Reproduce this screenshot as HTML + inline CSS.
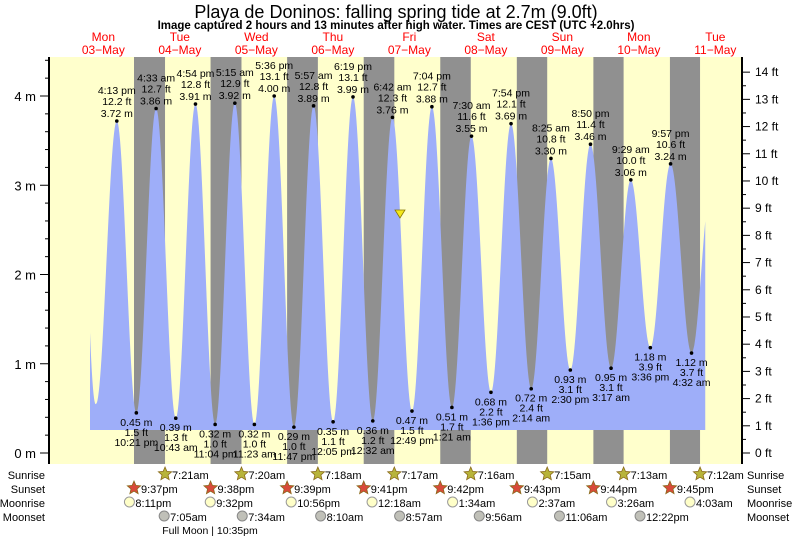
<!DOCTYPE html>
<html><head><meta charset="utf-8"><style>
body{margin:0;background:#fff}
svg{display:block;font-family:"Liberation Sans",sans-serif}
</style></head><body>
<svg id="s" width="793" height="538" viewBox="0 0 793 538" xmlns="http://www.w3.org/2000/svg"></svg>
<script>
const S=document.getElementById('s');let h='';
const X0=65.1,PX=3.1875;const X=t=>X0+PX*t;const Y=m=>453-89.25*m;
const L=49,R=742,T=57,B=464;
h+=`<rect x="${L}" y="${T}" width="${R-L}" height="${B-T}" fill="#ffffcc"/>`;
const ss=[21+37/60,21+38/60,21+39/60,21+41/60,21+42/60,21+43/60,21+44/60,21+45/60];
const sr=[7+21/60,7+20/60,7+18/60,7+17/60,7+16/60,7+15/60,7+13/60,7+12/60];
for(let d=0;d<8;d++){const a=X(d*24+ss[d]),b=X((d+1)*24+sr[d]);h+=`<rect x="${a}" y="${T}" width="${b-a}" height="${B-T}" fill="#909090"/>`;}
const ex=[[16.22,3.72,'4:13 pm'],[22.35,.45,'10:21 pm'],[28.55,3.86,'4:33 am'],[34.72,.39,'10:43 am'],[40.9,3.91,'4:54 pm'],[47.07,.32,'11:04 pm'],[53.25,3.92,'5:15 am'],[59.38,.32,'11:23 am'],[65.6,4.00,'5:36 pm'],[71.78,.29,'11:47 pm'],[77.95,3.89,'5:57 am'],[84.08,.35,'12:05 pm'],[90.32,3.99,'6:19 pm'],[96.53,.36,'12:32 am'],[102.7,3.76,'6:42 am'],[108.82,.47,'12:49 pm'],[115.07,3.88,'7:04 pm'],[121.35,.51,'1:21 am'],[127.5,3.55,'7:30 am'],[133.6,.68,'1:36 pm'],[139.9,3.69,'7:54 pm'],[146.23,.72,'2:14 am'],[152.42,3.30,'8:25 am'],[158.5,.93,'2:30 pm'],[164.83,3.46,'8:50 pm'],[171.28,.95,'3:17 am'],[177.48,3.06,'9:29 am'],[183.6,1.18,'3:36 pm'],[189.95,3.24,'9:57 pm'],[196.53,1.12,'4:32 am']];
const bot=430;
let p=`M90 ${bot} L90 ${Y(1.35)} Q93 ${Y(0.5)} 96 ${Y(0.55)} `;
{const x0=96,x1=X(ex[0][0]),m0=.55,m1=ex[0][1];for(let i=1;i<=30;i++){const f=i/30;p+=`L${x0+(x1-x0)*f} ${Y(m0+(m1-m0)*(1-Math.cos(Math.PI*f))/2)} `;}}
for(let k=0;k<ex.length-1;k++){const [t0,m0]=ex[k],[t1,m1]=ex[k+1];for(let i=1;i<=30;i++){const f=i/30;p+=`L${X(t0+(t1-t0)*f)} ${Y(m0+(m1-m0)*(1-Math.cos(Math.PI*f))/2)} `;}}
{const t0=196.53,m0=1.12;for(let i=1;i<=10;i++){const t=t0+4.3*i/10;const f=(t-t0)/6.2;p+=`L${X(t)} ${Y(m0+(3.0-m0)*(1-Math.cos(Math.PI*f))/2)} `;}}
p+=`L${X(200.83)} ${bot} Z`;
h+=`<path d="${p}" fill="#9eaef9"/>`;
h+=`<line x1="${L}" y1="${T}" x2="${L}" y2="${B}" stroke="#000" stroke-width="2"/><line x1="${R}" y1="${T}" x2="${R}" y2="${B}" stroke="#000" stroke-width="2"/>`;
for(let m=0;m<=4.6;m+=0.2){const y=Y(m);if(y<T)break;const maj=Math.abs(m-Math.round(m))<.01;h+=`<line x1="${maj?40:45}" y1="${y}" x2="${L}" y2="${y}" stroke="#000"/>`;if(maj)h+=`<text x="36" y="${y+5}" font-size="13" text-anchor="end">${Math.round(m)} m</text>`;}
for(let f=0;f<=14;f+=0.5){const y=Y(f*0.3048);const maj=f%1==0;h+=`<line x1="${R}" y1="${y}" x2="${R+(maj?8:4)}" y2="${y}" stroke="#000"/>`;if(maj)h+=`<text x="755" y="${y+4}" font-size="12">${f} ft</text>`;}
ex.forEach(([t,m,tm])=>{const x=X(t),y=Y(m),ft=(m/0.3048).toFixed(1);h+=`<circle cx="${x}" cy="${y}" r="1.8" fill="#000"/>`;
if(m>2){h+=`<text x="${x}" y="${y-4}" font-size="10.5" text-anchor="middle">${m.toFixed(2)} m</text><text x="${x}" y="${y-16}" font-size="10.5" text-anchor="middle">${ft} ft</text><text x="${x}" y="${y-27}" font-size="10.5" text-anchor="middle">${tm}</text>`;}
else{h+=`<text x="${x}" y="${y+13}" font-size="10.5" text-anchor="middle">${m.toFixed(2)} m</text><text x="${x}" y="${y+23}" font-size="10.5" text-anchor="middle">${ft} ft</text><text x="${x}" y="${y+33}" font-size="10.5" text-anchor="middle">${tm}</text>`;}});
h+=`<path d="M395 210 L405 210 L400 218 Z" fill="#f4e81a" stroke="#887700" stroke-width=".8"/>`;
h+=`<text x="396" y="18" font-size="18" text-anchor="middle">Playa de Doninos: falling  spring tide at 2.7m (9.0ft)</text>`;
h+=`<text x="396" y="29" font-size="11.5" font-weight="bold" text-anchor="middle">Image captured 2 hours and 13 minutes after high water. Times are CEST (UTC +2.0hrs)</text>`;
const dn=['Mon','Tue','Wed','Thu','Fri','Sat','Sun','Mon','Tue'];
dn.forEach((d,i)=>{const x=X(i*24+12);h+=`<text x="${x}" y="41" font-size="12" fill="#f00" text-anchor="middle">${d}</text><text x="${x}" y="54" font-size="12" fill="#f00" text-anchor="middle">${String(3+i).padStart(2,'0')}\u2212May</text>`;});
const rows=['Sunrise','Sunset','Moonrise','Moonset'];rows.forEach((r,i)=>{const y=479+i*14;h+=`<text x="45" y="${y}" font-size="11" text-anchor="end">${r}</text><text x="747" y="${y}" font-size="11">${r}</text>`;});
function star(x,y,c){let pts='';for(let i=0;i<10;i++){const a=-Math.PI/2+i*Math.PI/5,r=i%2?3.2:7;pts+=`${x+r*Math.cos(a)},${y+r*Math.sin(a)} `;}return `<polygon points="${pts}" fill="${c}" stroke="#8a6a1a" stroke-width=".8"/>`;}
const srt=['7:21am','7:20am','7:18am','7:17am','7:16am','7:15am','7:13am','7:12am'],sst=['9:37pm','9:38pm','9:39pm','9:41pm','9:42pm','9:43pm','9:44pm','9:45pm'];
for(let d=0;d<8;d++){let x=X((d+1)*24+sr[d]);h+=star(x,474,'#b8b43a')+`<text x="${x+7}" y="479" font-size="11">${srt[d]}</text>`;x=X(d*24+ss[d]);h+=star(x,488,'#d84a3a')+`<text x="${x+7}" y="493" font-size="11">${sst[d]}</text>`;}
const mr=[[20.18,'8:11pm'],[45.53,'9:32pm'],[70.93,'10:56pm'],[96.3,'12:18am'],[121.57,'1:34am'],[146.62,'2:37am'],[171.43,'3:26am'],[196.05,'4:03am']];
mr.forEach(([t,s])=>{const x=X(t);h+=`<circle cx="${x}" cy="502" r="5" fill="#ffffc8" stroke="#999"/><text x="${x+6}" y="507" font-size="11">${s}</text>`;});
const ms=[[31.08,'7:05am'],[55.57,'7:34am'],[80.17,'8:10am'],[104.95,'8:57am'],[129.93,'9:56am'],[155.1,'11:06am'],[180.37,'12:22pm']];
ms.forEach(([t,s])=>{const x=X(t);h+=`<circle cx="${x}" cy="516" r="5" fill="#c0c0b8" stroke="#888"/><text x="${x+6}" y="521" font-size="11">${s}</text>`;});
h+=`<text x="210" y="534" font-size="10.5" text-anchor="middle">Full Moon | 10:35pm</text>`;
S.innerHTML=h;
</script>
</body></html>
